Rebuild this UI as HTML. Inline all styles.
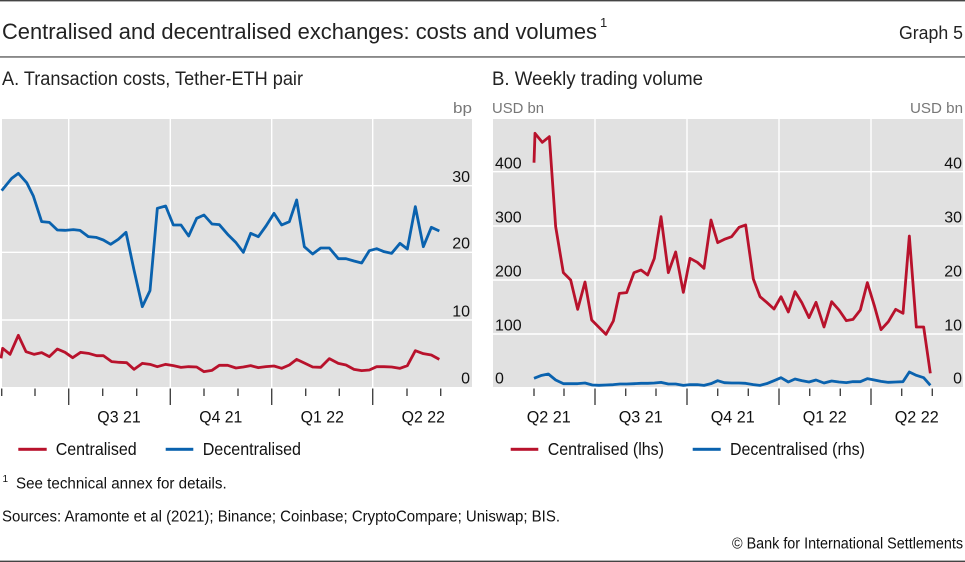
<!DOCTYPE html>
<html>
<head>
<meta charset="utf-8">
<style>
html,body{margin:0;padding:0;background:#fff;}
svg{display:block;}
text{font-family:"Liberation Sans",sans-serif;}
</style>
</head>
<body>
<svg width="965" height="562" viewBox="0 0 965 562" xmlns="http://www.w3.org/2000/svg">
  <!-- rules -->
  <rect x="0" y="0" width="965" height="1.4" fill="#444"/>
  <rect x="0" y="56.3" width="965" height="1.3" fill="#555"/>
  <rect x="0" y="560.6" width="965" height="1.4" fill="#444"/>

  <!-- title -->
  <text x="2" y="39" font-size="22" fill="#222" textLength="595" lengthAdjust="spacingAndGlyphs">Centralised and decentralised exchanges: costs and volumes</text>
  <text x="600" y="27" font-size="13" fill="#222">1</text>
  <text x="963" y="39" font-size="18" fill="#222" text-anchor="end" textLength="64" lengthAdjust="spacingAndGlyphs">Graph 5</text>

  <!-- panel titles -->
  <text x="2" y="85" font-size="19" fill="#222" textLength="301" lengthAdjust="spacingAndGlyphs">A. Transaction costs, Tether-ETH pair</text>
  <text x="492" y="85" font-size="19" fill="#222" textLength="211" lengthAdjust="spacingAndGlyphs">B. Weekly trading volume</text>

  <!-- units -->
  <text x="453" y="113" font-size="15" fill="#777" textLength="19" lengthAdjust="spacingAndGlyphs">bp</text>
  <text x="492" y="113" font-size="15" fill="#777" textLength="52" lengthAdjust="spacingAndGlyphs">USD bn</text>
  <text x="910" y="113" font-size="15" fill="#777" textLength="53" lengthAdjust="spacingAndGlyphs">USD bn</text>

  <!-- Panel A plot -->
  <rect x="2" y="119" width="470" height="268" fill="#e1e1e1"/>
  <g stroke="#fff" stroke-width="1.4">
    <line x1="2" y1="185.7" x2="472" y2="185.7"/>
    <line x1="2" y1="252.3" x2="472" y2="252.3"/>
    <line x1="2" y1="320" x2="472" y2="320"/>
    <line x1="68.7" y1="119" x2="68.7" y2="387"/>
    <line x1="170.3" y1="119" x2="170.3" y2="387"/>
    <line x1="271.7" y1="119" x2="271.7" y2="387"/>
    <line x1="372.7" y1="119" x2="372.7" y2="387"/>
  </g>
  <g font-size="16" fill="#111" text-anchor="end">
    <text x="470" y="182">30</text>
    <text x="470" y="248.7">20</text>
    <text x="470" y="316.3">10</text>
    <text x="470" y="383.3">0</text>
  </g>

  <!-- Panel B plot -->
  <rect x="493" y="119" width="470" height="268" fill="#e1e1e1"/>
  <g stroke="#fff" stroke-width="1.4">
    <line x1="493" y1="171.7" x2="963" y2="171.7"/>
    <line x1="493" y1="226" x2="963" y2="226"/>
    <line x1="493" y1="280" x2="963" y2="280"/>
    <line x1="493" y1="334" x2="963" y2="334"/>
    <line x1="595" y1="119" x2="595" y2="387"/>
    <line x1="687" y1="119" x2="687" y2="387"/>
    <line x1="779" y1="119" x2="779" y2="387"/>
    <line x1="871" y1="119" x2="871" y2="387"/>
  </g>
  <g font-size="16" fill="#111">
    <text x="495" y="168.3">400</text>
    <text x="495" y="222.7">300</text>
    <text x="495" y="276.3">200</text>
    <text x="495" y="330.3">100</text>
    <text x="495" y="383.3">0</text>
  </g>
  <g font-size="16" fill="#111" text-anchor="end">
    <text x="962" y="168.3">40</text>
    <text x="962" y="222.7">30</text>
    <text x="962" y="276.3">20</text>
    <text x="962" y="330.3">10</text>
    <text x="962" y="383.3">0</text>
  </g>

  <!-- Panel A series -->
  <g transform="translate(0,100) scale(0.333333)" fill="none" stroke-linejoin="round" stroke-linecap="butt">
    <polyline stroke="#0a62ae" stroke-width="8.4" points="5,272 35,235 55,220 80,248 100,288 125,365 148,367 172,390 195,391 220,389 240,391 265,410 288,412 310,420 332,433 355,418 378,397 402,510 427,620 450,572 472,325 497,318 520,375 543,375 566,408 590,355 612,345 636,372 658,374 683,403 708,428 730,457 752,400 775,410 798,378 822,340 845,375 868,365 890,300 913,440 938,462 962,444 988,444 1015,476 1038,476 1062,483 1085,489 1108,452 1130,446 1152,455 1175,460 1200,430 1222,447 1246,320 1270,440 1294,382 1318,393"/>
    <polyline stroke="#b8122c" stroke-width="8.4" points="3,775 8,745 30,763 55,706 78,755 102,763 125,758 148,770 172,747 195,757 218,773 242,757 265,760 290,767 310,767 335,785 358,787 380,788 402,808 427,790 450,793 472,800 497,793 520,797 543,802 566,800 590,801 612,815 636,811 658,796 683,796 708,804 730,801 752,797 775,803 798,800 822,798 845,805 868,795 890,778 913,789 938,801 962,802 988,776 1015,790 1038,795 1062,808 1085,812 1108,810 1130,800 1152,800 1175,801 1200,805 1222,797 1246,752 1270,761 1294,765 1318,778"/>
  </g>

  <!-- Panel B series -->
  <g transform="translate(485,100) scale(0.333333)" fill="none" stroke-linejoin="round" stroke-linecap="butt">
    <polyline stroke="#b8122c" stroke-width="8.4" points="147,188 150,100 172,127 193,110 212,380 235,518 257,540 278,628 300,546 320,660 342,682 363,703 385,663 403,580 425,578 447,518 468,510 488,525 508,475 528,350 550,518 572,456 595,577 615,475 637,487 657,505 678,360 698,428 718,418 740,410 762,382 782,375 805,537 825,590 845,607 867,627 888,590 910,636 930,575 950,607 972,653 993,607 1017,681 1040,605 1062,630 1084,662 1104,658 1126,630 1147,548 1168,617 1188,689 1210,665 1232,628 1254,640 1273,408 1294,681 1316,681 1336,820"/>
    <polyline stroke="#0a62ae" stroke-width="8.4" points="147,835 170,826 190,822 212,840 235,851 257,851 278,851 300,849 322,855 342,856 363,855 385,854 405,852 425,852 447,851 468,850 488,850 508,849 528,847 550,852 572,852 595,856 615,854 637,854 657,856 678,851 698,842 718,848 740,849 762,849 782,850 805,854 825,856 845,851 867,842 888,833 910,846 930,837 950,842 972,846 993,840 1017,849 1040,843 1062,846 1084,848 1104,845 1126,845 1147,836 1168,840 1188,844 1210,847 1232,846 1254,845 1273,816 1294,826 1316,833 1336,856"/>
  </g>

  <!-- x ticks A -->
  <g stroke="#444" stroke-width="1.4">
    <line x1="1.7" y1="388.5" x2="1.7" y2="396"/>
    <line x1="35" y1="388.5" x2="35" y2="396"/>
    <line x1="68.7" y1="388.5" x2="68.7" y2="405"/>
    <line x1="102.7" y1="388.5" x2="102.7" y2="396"/>
    <line x1="136.7" y1="388.5" x2="136.7" y2="396"/>
    <line x1="170.3" y1="388.5" x2="170.3" y2="405"/>
    <line x1="204" y1="388.5" x2="204" y2="396"/>
    <line x1="238" y1="388.5" x2="238" y2="396"/>
    <line x1="271.7" y1="388.5" x2="271.7" y2="405"/>
    <line x1="305.7" y1="388.5" x2="305.7" y2="396"/>
    <line x1="339.3" y1="388.5" x2="339.3" y2="396"/>
    <line x1="372.7" y1="388.5" x2="372.7" y2="405"/>
    <line x1="407" y1="388.5" x2="407" y2="396"/>
    <line x1="440.7" y1="388.5" x2="440.7" y2="396"/>
  </g>
  <!-- x ticks B -->
  <g stroke="#444" stroke-width="1.4">
    <line x1="534" y1="388.5" x2="534" y2="396"/>
    <line x1="564" y1="388.5" x2="564" y2="396"/>
    <line x1="595" y1="388.5" x2="595" y2="405"/>
    <line x1="625.7" y1="388.5" x2="625.7" y2="396"/>
    <line x1="656" y1="388.5" x2="656" y2="396"/>
    <line x1="687" y1="388.5" x2="687" y2="405"/>
    <line x1="717.7" y1="388.5" x2="717.7" y2="396"/>
    <line x1="748.3" y1="388.5" x2="748.3" y2="396"/>
    <line x1="779" y1="388.5" x2="779" y2="405"/>
    <line x1="809.7" y1="388.5" x2="809.7" y2="396"/>
    <line x1="840.3" y1="388.5" x2="840.3" y2="396"/>
    <line x1="871" y1="388.5" x2="871" y2="405"/>
    <line x1="901.7" y1="388.5" x2="901.7" y2="396"/>
    <line x1="932.3" y1="388.5" x2="932.3" y2="396"/>
  </g>

  <!-- x labels -->
  <g font-size="17" fill="#111" text-anchor="middle">
    <text x="119" y="422.7" textLength="43.4" lengthAdjust="spacingAndGlyphs">Q3 21</text>
    <text x="220.8" y="422.7" textLength="43" lengthAdjust="spacingAndGlyphs">Q4 21</text>
    <text x="322.3" y="422.7" textLength="43.3" lengthAdjust="spacingAndGlyphs">Q1 22</text>
    <text x="423.3" y="422.7" textLength="43.3" lengthAdjust="spacingAndGlyphs">Q2 22</text>
    <text x="548.7" y="422.7" textLength="44" lengthAdjust="spacingAndGlyphs">Q2 21</text>
    <text x="640.7" y="422.7" textLength="44" lengthAdjust="spacingAndGlyphs">Q3 21</text>
    <text x="732.7" y="422.7" textLength="44" lengthAdjust="spacingAndGlyphs">Q4 21</text>
    <text x="824.7" y="422.7" textLength="44" lengthAdjust="spacingAndGlyphs">Q1 22</text>
    <text x="916.7" y="422.7" textLength="44" lengthAdjust="spacingAndGlyphs">Q2 22</text>
  </g>

  <!-- legends -->
  <rect x="18.3" y="447.8" width="28.4" height="3" fill="#b8122c"/>
  <text x="55.7" y="455" font-size="17.5" fill="#111" textLength="81" lengthAdjust="spacingAndGlyphs">Centralised</text>
  <rect x="165.7" y="447.8" width="27.6" height="3" fill="#0a62ae"/>
  <text x="202.7" y="455" font-size="17.5" fill="#111" textLength="98.3" lengthAdjust="spacingAndGlyphs">Decentralised</text>

  <rect x="510.7" y="447.8" width="27.6" height="3" fill="#b8122c"/>
  <text x="547.7" y="455" font-size="17.5" fill="#111" textLength="116.3" lengthAdjust="spacingAndGlyphs">Centralised (lhs)</text>
  <rect x="692.7" y="447.8" width="28" height="3" fill="#0a62ae"/>
  <text x="730" y="455" font-size="17.5" fill="#111" textLength="135" lengthAdjust="spacingAndGlyphs">Decentralised (rhs)</text>

  <!-- footnotes -->
  <text x="2.5" y="482" font-size="10" fill="#111">1</text>
  <text x="16" y="488.3" font-size="15.5" fill="#111" textLength="210.7" lengthAdjust="spacingAndGlyphs">See technical annex for details.</text>
  <text x="2" y="521.7" font-size="15.5" fill="#111" textLength="558" lengthAdjust="spacingAndGlyphs">Sources: Aramonte et al (2021); Binance; Coinbase; CryptoCompare; Uniswap; BIS.</text>
  <text x="963" y="548.3" font-size="15.5" fill="#111" text-anchor="end" textLength="231" lengthAdjust="spacingAndGlyphs">© Bank for International Settlements</text>
</svg>
</body>
</html>
